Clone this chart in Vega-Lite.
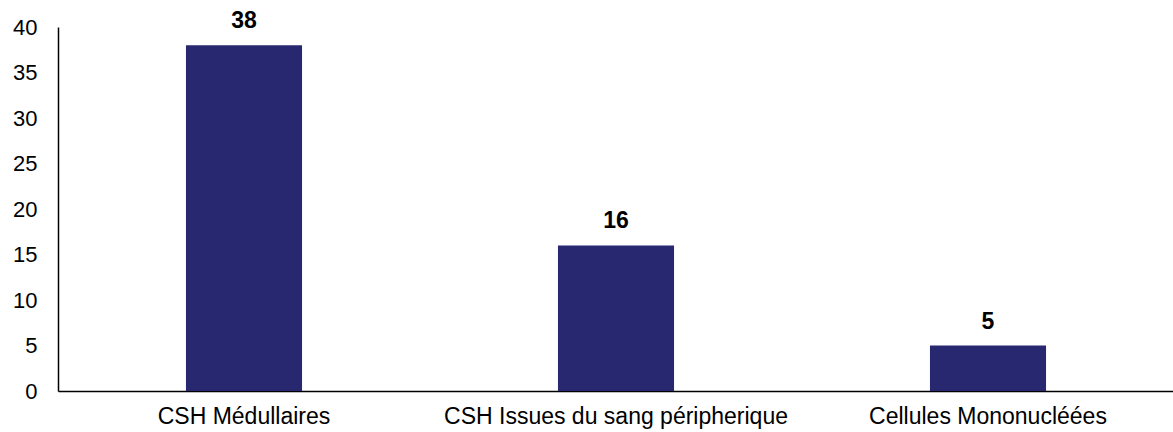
{
  "$schema": "https://vega.github.io/schema/vega-lite/v6.json",
  "autosize": {"type": "none"},
  "padding": {"left": 58, "top": 27, "right": 0, "bottom": 41},
  "width": 1116,
  "height": 364,
  "background": "white",
  "data": {"values": [
    {"cat": "CSH Médullaires", "value": 38},
    {"cat": "CSH Issues du sang péripherique", "value": 16},
    {"cat": "Cellules Mononucléées", "value": 5}
  ]},
  "config": {
    "view": {"stroke": null},
    "font": "Liberation Sans",
    "axis": {"grid": false, "ticks": false, "domainColor": "#000000", "domainWidth": 1.5, "labelColor": "#000000", "labelFont": "Liberation Sans", "title": null}
  },
  "encoding": {
    "x": {"field": "cat", "type": "nominal", "sort": null,
      "scale": {"paddingInner": 0.688, "paddingOuter": 0.344},
      "axis": {"labelAngle": 0, "labelPadding": 14, "labelLimit": 400, "labelFontSize": 23, "domainColor": "#000000", "domainWidth": 1.5}},
    "y": {"field": "value", "type": "quantitative",
      "scale": {"domain": [0, 40]},
      "axis": {"values": [0, 5, 10, 15, 20, 25, 30, 35, 40], "labelPadding": 21, "labelFontSize": 22, "domainColor": "#000000", "domainWidth": 1.5}}
  },
  "layer": [
    {"mark": {"type": "bar", "color": "#27286F"}},
    {"mark": {"type": "text", "baseline": "alphabetic", "dy": -17, "fontSize": 23, "fontWeight": "bold", "color": "#000000"},
     "encoding": {"text": {"field": "value", "type": "quantitative"}}}
  ]
}
